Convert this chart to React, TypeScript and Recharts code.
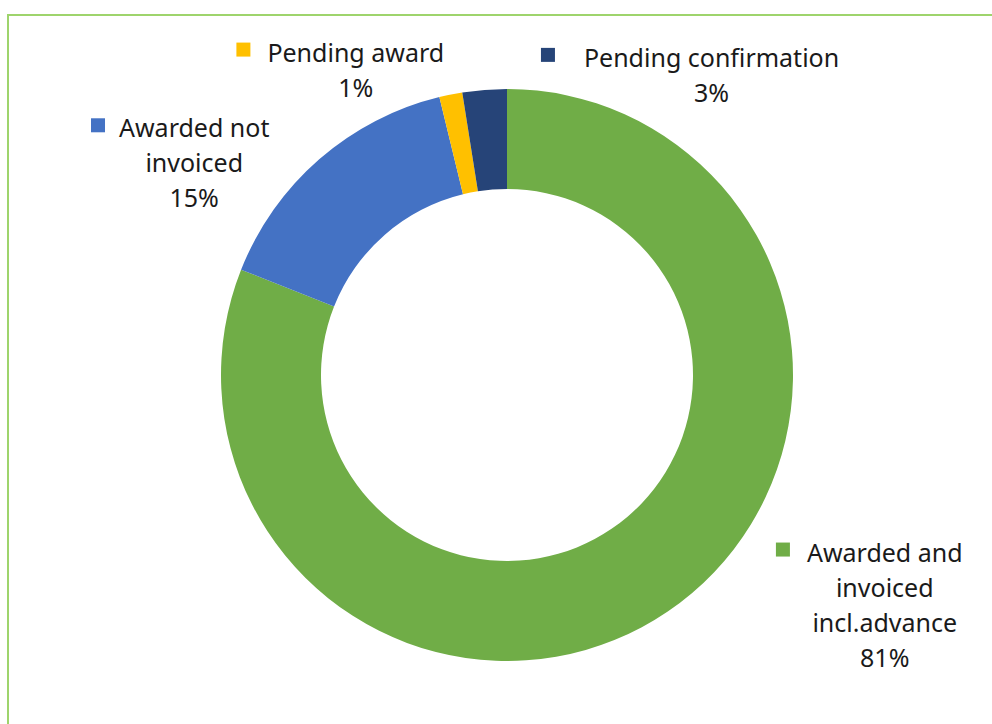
import React from 'react';
import { PieChart, Pie, Cell } from 'recharts';

const categories = [
  'Awarded and invoiced incl.advance',
  'Awarded not invoiced',
  'Pending award',
  'Pending confirmation'
];
const labelLines = [
  ['Awarded and', 'invoiced', 'incl.advance'],
  ['Awarded not', 'invoiced'],
  ['Pending award'],
  ['Pending confirmation']
];
const shares = [81.0, 15.2, 1.3, 2.5];
const colors = ['#70AD47', '#4472C4', '#FFC000', '#264478'];

// label placement relative to slice's outer mid point (Excel "best fit" look)
const labelOffsets = [
  { dx: 217, dy: -60, gap: 17 },
  { dx: -125, dy: -32, gap: 14 },
  { dx: -95, dy: -43, gap: 17 },
  { dx: 227, dy: -33, gap: 29 }
];

const FONT = "'Noto Sans', 'Open Sans', sans-serif";
const FONT_SIZE = 25;
const LINE_H = 35;

const data = categories.map((name, i) => ({ name, value: shares[i] }));
const total = shares.reduce((a, b) => a + b, 0);

let ctx: CanvasRenderingContext2D | null = null;
const measure = (s: string) => {
  if (!ctx) ctx = document.createElement('canvas').getContext('2d');
  if (!ctx) return s.length * FONT_SIZE * 0.55;
  ctx.font = `${FONT_SIZE}px ${FONT}`;
  return ctx.measureText(s).width;
};

const renderLabel = (props: any) => {
  const { cx, cy, midAngle, outerRadius, index } = props;
  const rad = (Math.PI / 180) * midAngle;
  const ax = cx + outerRadius * Math.cos(rad);
  const ay = cy - outerRadius * Math.sin(rad);
  const off = labelOffsets[index];
  const x = ax + off.dx;
  const y = ay + off.dy;
  const lines = [...labelLines[index], `${Math.round((shares[index] / total) * 100)}%`];
  const w = measure(lines[0]);
  return (
    <g key={`lbl-${index}`}>
      <rect x={x - w / 2 - off.gap - 14} y={y - 9} width={14} height={14} fill={colors[index]} />
      {lines.map((t, j) => (
        <text
          key={j}
          x={x}
          y={y + j * LINE_H}
          textAnchor="middle"
          dominantBaseline="central"
          fill="#1a1a1a"
          fontSize={FONT_SIZE}
          fontFamily={FONT}
        >
          {t}
        </text>
      ))}
    </g>
  );
};

export default function App() {
  return (
    <div style={{ position: 'absolute', left: 0, top: 0, width: 992, height: 724, background: '#fff', overflow: 'hidden' }}>
      <div
        style={{
          position: 'absolute',
          left: 7,
          top: 14,
          width: 1000,
          height: 720,
          border: '2px solid #9ed46c',
          boxSizing: 'border-box'
        }}
      />
      <div style={{ position: 'absolute', left: 0, top: 0 }}>
        <PieChart width={992} height={724} margin={{ top: 0, right: 0, bottom: 0, left: 0 }}>
          <Pie
            data={data}
            dataKey="value"
            nameKey="name"
            cx={507}
            cy={375}
            outerRadius={286}
            innerRadius={186}
            startAngle={90}
            endAngle={-270}
            stroke="none"
            label={renderLabel}
            labelLine={false}
            isAnimationActive={false}
          >
            {data.map((d, i) => (
              <Cell key={d.name} fill={colors[i]} />
            ))}
          </Pie>
        </PieChart>
      </div>
    </div>
  );
}
